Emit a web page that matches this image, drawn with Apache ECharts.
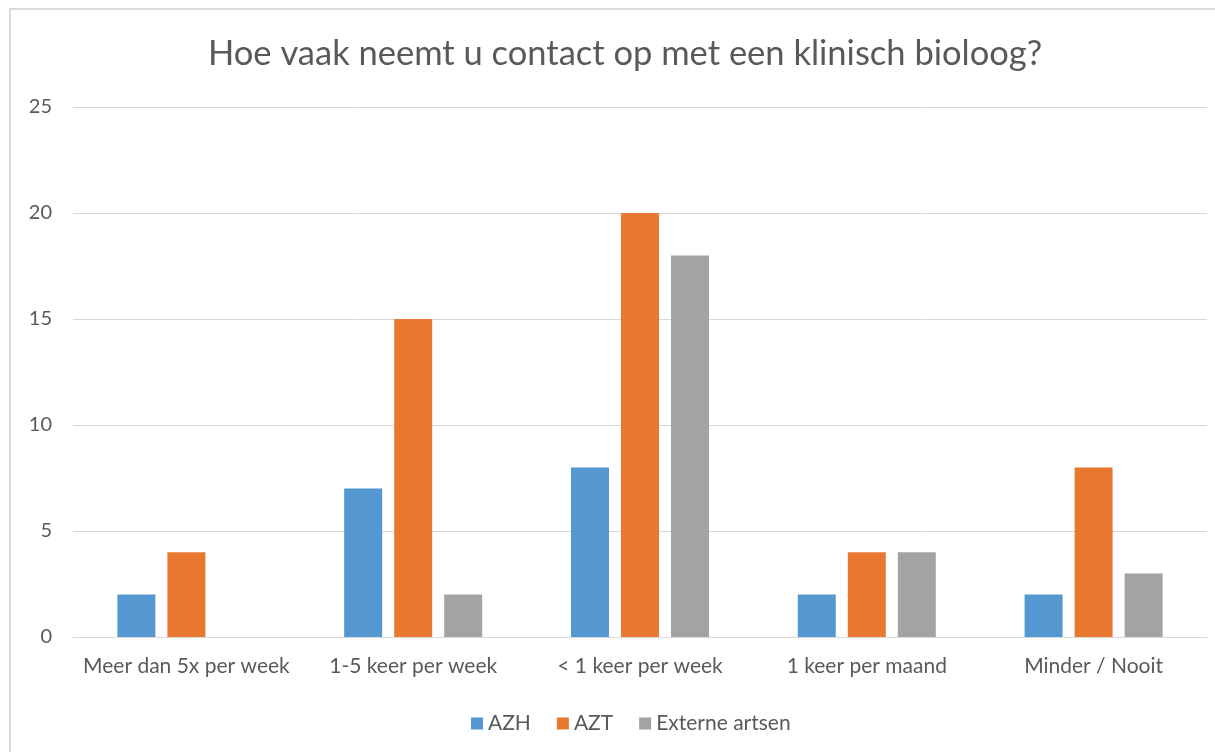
<!DOCTYPE html>
<html><head><meta charset="utf-8">
<script src="https://cdn.jsdelivr.net/npm/echarts@6/dist/echarts.min.js"></script>
<style>
html,body{margin:0;padding:0;background:#fff;}
#frame{position:absolute;left:9px;top:8px;width:1220px;height:760px;border:2px solid #d9d9d9;box-sizing:border-box;}
#c{position:absolute;left:0;top:0;width:1215px;height:752px;}
</style></head>
<body>
<div id="frame"></div>
<div id="c"></div>
<script>
const categories = ['Meer dan 5x per week', '1-5 keer per week', '< 1 keer per week', '1 keer per maand', 'Minder / Nooit'];
const azh = [2, 7, 8, 2, 2];
const azt = [4, 15, 20, 4, 8];
const externe = [0, 2, 18, 4, 3];
const seriesNames = ['AZH', 'AZT', 'Externe artsen'];
const yTicks = [0, 5, 10, 15, 20, 25];

const font = 'Lato, "Open Sans", sans-serif';
const chart = echarts.init(document.getElementById('c'));
const colors = ['#5597d0', '#e8772f', '#a3a3a3'];
const data = [azh, azt, externe];
chart.setOption({
  animation: false,
  color: colors,
  title: {
    text: 'Hoe vaak neemt u contact op met een klinisch bioloog?',
    left: 203, top: 31,
    textStyle: {fontFamily: font, fontSize: 34.5, fontWeight: 'normal', color: '#595959'}
  },
  legend: {
    top: 708, left: 466, itemWidth: 12, itemHeight: 12, itemGap: 26,
    icon: 'rect',
    textStyle: {fontFamily: font, fontSize: 21, color: '#595959'},
    data: seriesNames
  },
  grid: {left: 73, right: 8, top: 107, bottom: 115, containLabel: false},
  xAxis: {
    type: 'category', data: categories,
    axisLine: {lineStyle: {color: '#d9d9d9', width: 1}},
    axisTick: {show: false},
    axisLabel: {fontFamily: font, fontSize: 21, color: '#595959', margin: 19, interval: 0}
  },
  yAxis: {
    type: 'value', min: yTicks[0], max: yTicks[yTicks.length - 1], interval: 5,
    axisLine: {show: false}, axisTick: {show: false},
    splitLine: {lineStyle: {color: '#d9d9d9', width: 1}},
    axisLabel: {fontFamily: font, fontSize: 20, color: '#595959', margin: 21}
  },
  series: seriesNames.map((n, i) => ({
    name: n, type: 'bar', data: data[i].map(v => v === 0 ? null : v),
    barWidth: 38, barGap: '31.6%',
    itemStyle: {color: colors[i]}
  }))
});
</script>
</body></html>
